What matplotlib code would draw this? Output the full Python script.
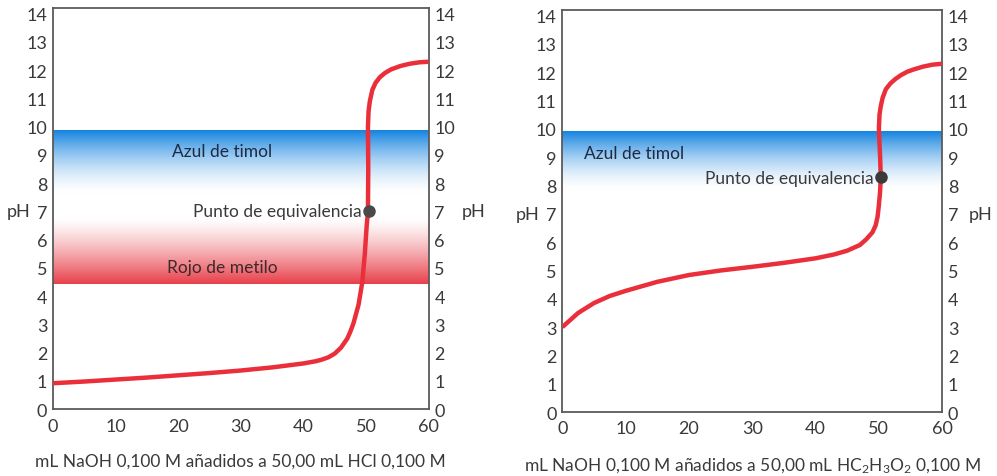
import numpy as np
import matplotlib.pyplot as plt
from matplotlib.colors import LinearSegmentedColormap

plt.rcParams['font.family'] = ['Lato', 'DejaVu Sans']

# HCl curve (strong acid)
hcl_ml = [0, 5, 10, 15, 20, 25, 30, 35, 40, 42, 43, 44, 45, 46, 47, 47.5, 48, 48.8,
          49.4, 49.8, 50.1, 50.3, 50.35, 50.3, 50.4, 50.6, 51.0, 51.5, 52.2, 53, 54,
          55.5, 57, 58.5, 60]
hcl_ph = [0.92, 0.98, 1.05, 1.12, 1.2, 1.28, 1.37, 1.48, 1.62, 1.7, 1.76, 1.84, 1.97,
          2.18, 2.5, 2.75, 3.05, 3.7, 4.5, 5.5, 6.5, 7.0, 8.5, 10.0, 10.55, 10.9,
          11.3, 11.55, 11.75, 11.9, 12.03, 12.15, 12.23, 12.28, 12.3]

# acetic acid curve (weak acid)
hac_ml = [0, 1, 2.5, 5, 7.5, 10, 15, 20, 25, 30, 35, 40, 43, 45, 47, 48, 49, 49.5,
          49.8, 50.0, 50.2, 50.3, 50.2, 50.0, 50.1, 50.3, 50.6, 51.1, 51.8, 52.6,
          53.5, 54.5, 55.5, 57, 58.5, 60]
hac_ph = [3.0, 3.2, 3.5, 3.85, 4.1, 4.28, 4.6, 4.84, 5.0, 5.13, 5.27, 5.43, 5.57, 5.7,
          5.9, 6.1, 6.35, 6.6, 6.9, 7.3, 7.8, 8.3, 9.0, 10.0, 10.5, 10.8, 11.1,
          11.4, 11.6, 11.76, 11.9, 12.02, 12.1, 12.2, 12.27, 12.3]

hcl_eq = (50.4, 7.0)
hac_eq = (50.3, 8.3)

# indicator ranges: (solid edge, faded edge)
azul_left = (9.9, 7.6)
rojo_left = (4.45, 6.8)
azul_right = (9.9, 7.8)

xlabel_left = "mL NaOH 0,100 M añadidos a 50,00 mL HCl 0,100 M"
xlabel_right = r"mL NaOH 0,100 M añadidos a 50,00 mL HC$\mathregular{_2}$H$\mathregular{_3}$O$\mathregular{_2}$ 0,100 M"

txt = '#3a3a3a'
spine = '#5a5a5a'
blue = '#1584e0'
red = '#e8404a'
line_red = '#ea2f3a'


def band(ax, rng, color, power):
    solid, faded = rng
    cmap = LinearSegmentedColormap.from_list('b', ['#ffffff', color])
    g = np.linspace(0, 1, 200) ** power
    lo, hi = min(rng), max(rng)
    if solid > faded:
        img = g[::-1].reshape(-1, 1)
    else:
        img = g.reshape(-1, 1)
    ax.imshow(img, cmap=cmap, vmin=0, vmax=1, aspect='auto',
              extent=[0, 60, lo, hi], origin='upper', zorder=0)


def setup(ax, xlabel, ph_right):
    ax.set_xlim(0, 60)
    ax.set_ylim(0, 14.2)
    ax.set_xticks(range(0, 61, 10))
    ax.set_yticks(range(0, 15))
    ax.tick_params(axis='x', length=0, pad=6, labelsize=13, colors=txt)
    ax.tick_params(axis='y', which='major', length=0, pad=4, labelsize=13,
                   colors=txt, left=True, right=True, labelleft=True, labelright=True)
    ax.set_yticks(range(1, 14, 2), minor=True)
    ax.tick_params(axis='y', which='minor', length=9, width=1.2, direction='in',
                   color=spine, left=True, right=True)
    for s in ax.spines.values():
        s.set_color(spine)
        s.set_linewidth(1.3)
    ax.set_xlabel(xlabel, fontsize=12.5, color=txt, labelpad=14)
    ax.text(-0.06, 7, 'pH', transform=ax.get_yaxis_transform(), fontsize=13,
            color=txt, ha='right', va='center')
    ax.text(ph_right, 7, 'pH', transform=ax.get_yaxis_transform(), fontsize=13,
            color=txt, ha='left', va='center')


fig = plt.figure(figsize=(9.97, 4.77), dpi=100)
ax1 = fig.add_axes([0.053, 0.140, 0.377, 0.841])
ax2 = fig.add_axes([0.564, 0.134, 0.381, 0.843])

band(ax1, azul_left, blue, 1.6)
band(ax1, rojo_left, red, 1.3)
ax1.plot(hcl_ml, hcl_ph, color=line_red, lw=3.2, solid_capstyle='butt', zorder=3)
ax1.plot(*hcl_eq, 'o', color='#4a4a4a', ms=8, zorder=4)
ax1.text(27, 9.15, 'Azul de timol', ha='center', va='center', fontsize=12.5, color='#1e2a44')
ax1.text(27, 5.05, 'Rojo de metilo', ha='center', va='center', fontsize=12.5, color='#3a2a2a')
ax1.text(49.3, 7.0, 'Punto de equivalencia', ha='right', va='center', fontsize=12.5, color=txt)
setup(ax1, xlabel_left, 1.088)

band(ax2, azul_right, blue, 1.6)
ax2.plot(hac_ml, hac_ph, color=line_red, lw=3.2, solid_capstyle='butt', zorder=3)
ax2.plot(*hac_eq, 'o', color='#3a3a3a', ms=8, zorder=4)
ax2.text(3.5, 9.15, 'Azul de timol', ha='left', va='center', fontsize=12.5, color='#1e2a44')
ax2.text(49.1, 8.25, 'Punto de equivalencia', ha='right', va='center', fontsize=12.5, color=txt)
setup(ax2, xlabel_right, 1.07)

plt.savefig('out.png', dpi=100)
